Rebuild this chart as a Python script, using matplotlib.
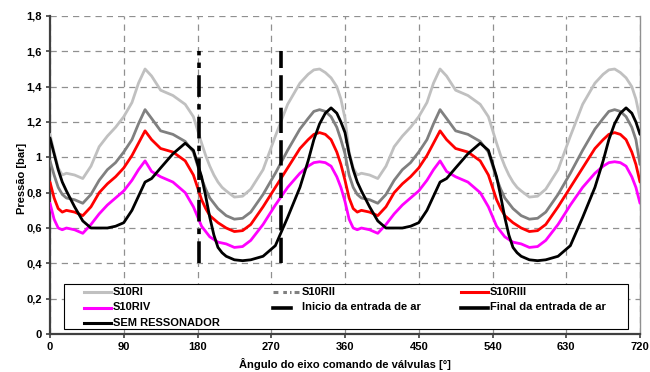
import matplotlib
matplotlib.use("Agg")
import matplotlib.pyplot as plt
from matplotlib.patches import Rectangle
from matplotlib.lines import Line2D

plt.rcParams['font.family'] = ['Liberation Sans', 'DejaVu Sans']
plt.rcParams['font.weight'] = 'bold'

angles = [0, 5, 10, 15, 20, 30, 40, 50, 60, 70, 80, 90, 100, 108, 116, 124, 135, 150, 165, 175,
          185, 190, 195, 200, 205, 210, 215, 225, 235, 245, 260, 275, 290, 305, 315, 322, 329, 336, 343, 350, 355,
          360, 365, 370, 375, 380, 390, 400, 410, 420, 430, 440, 450, 460, 468, 476, 484, 495, 510, 525, 535,
          545, 550, 555, 560, 565, 570, 575, 585, 595, 605, 620, 635, 650, 665, 675, 682, 689, 696, 703, 710, 715,
          720]

s10ri = [1.13, 1.03, 0.94, 0.90, 0.91, 0.90, 0.88, 0.95, 1.06, 1.12, 1.17, 1.23, 1.31, 1.42, 1.50, 1.46, 1.38, 1.35, 1.30, 1.23,
         1.08, 1.01, 0.95, 0.90, 0.86, 0.83, 0.81, 0.775, 0.78, 0.82, 0.93, 1.12, 1.30, 1.42, 1.47, 1.495, 1.50, 1.48, 1.45, 1.40, 1.33,
         1.22, 1.03, 0.94, 0.90, 0.91, 0.90, 0.88, 0.95, 1.06, 1.12, 1.17, 1.23, 1.31, 1.42, 1.50, 1.46, 1.38, 1.35, 1.30, 1.23,
         1.08, 1.01, 0.95, 0.90, 0.86, 0.83, 0.81, 0.775, 0.78, 0.82, 0.93, 1.12, 1.30, 1.42, 1.47, 1.495, 1.50, 1.48, 1.45, 1.40, 1.33,
         1.22]

s10rii = [0.98, 0.90, 0.83, 0.79, 0.77, 0.76, 0.74, 0.79, 0.87, 0.93, 0.97, 1.03, 1.10, 1.19, 1.27, 1.22, 1.15, 1.13, 1.09, 1.03,
          0.88, 0.82, 0.77, 0.74, 0.71, 0.69, 0.67, 0.65, 0.655, 0.69, 0.79, 0.91, 1.04, 1.16, 1.22, 1.26, 1.27, 1.26, 1.23, 1.17, 1.10,
          1.02, 0.90, 0.83, 0.79, 0.77, 0.76, 0.74, 0.79, 0.87, 0.93, 0.97, 1.03, 1.10, 1.19, 1.27, 1.22, 1.15, 1.13, 1.09, 1.03,
          0.88, 0.82, 0.77, 0.74, 0.71, 0.69, 0.67, 0.65, 0.655, 0.69, 0.79, 0.91, 1.04, 1.16, 1.22, 1.26, 1.27, 1.26, 1.23, 1.17, 1.10,
          0.96]

s10riii = [0.86, 0.77, 0.71, 0.69, 0.70, 0.69, 0.67, 0.72, 0.80, 0.85, 0.89, 0.94, 1.01, 1.08, 1.15, 1.10, 1.05, 1.03, 0.98, 0.90,
           0.76, 0.71, 0.67, 0.65, 0.63, 0.615, 0.60, 0.58, 0.585, 0.62, 0.72, 0.83, 0.94, 1.05, 1.10, 1.13, 1.14, 1.13, 1.10, 1.03, 0.96,
           0.87, 0.77, 0.71, 0.69, 0.70, 0.69, 0.67, 0.72, 0.80, 0.85, 0.89, 0.94, 1.01, 1.08, 1.15, 1.10, 1.05, 1.03, 0.98, 0.90,
           0.76, 0.71, 0.67, 0.65, 0.63, 0.615, 0.60, 0.58, 0.585, 0.62, 0.72, 0.83, 0.94, 1.05, 1.10, 1.13, 1.14, 1.13, 1.10, 1.03, 0.96,
           0.86]

s10riv = [0.74, 0.65, 0.60, 0.59, 0.60, 0.59, 0.57, 0.62, 0.68, 0.73, 0.77, 0.81, 0.87, 0.93, 0.98, 0.92, 0.89, 0.86, 0.80, 0.72,
          0.61, 0.58, 0.55, 0.535, 0.52, 0.515, 0.51, 0.49, 0.495, 0.53, 0.62, 0.73, 0.83, 0.91, 0.95, 0.97, 0.975, 0.97, 0.95, 0.89, 0.83,
          0.75, 0.65, 0.60, 0.59, 0.60, 0.59, 0.57, 0.62, 0.68, 0.73, 0.77, 0.81, 0.87, 0.93, 0.98, 0.92, 0.89, 0.86, 0.80, 0.72,
          0.61, 0.58, 0.55, 0.535, 0.52, 0.515, 0.51, 0.49, 0.495, 0.53, 0.62, 0.73, 0.83, 0.91, 0.95, 0.97, 0.975, 0.97, 0.95, 0.89, 0.83,
          0.74]

sem = [1.11, 1.02, 0.93, 0.86, 0.81, 0.72, 0.64, 0.60, 0.60, 0.60, 0.61, 0.63, 0.70, 0.78, 0.86, 0.88, 0.94, 1.02, 1.08, 1.04,
       0.89, 0.78, 0.66, 0.56, 0.49, 0.46, 0.44, 0.42, 0.415, 0.42, 0.44, 0.50, 0.66, 0.83, 0.98, 1.10, 1.19, 1.25, 1.28, 1.25, 1.20,
       1.14, 1.02, 0.93, 0.86, 0.81, 0.72, 0.64, 0.60, 0.60, 0.60, 0.61, 0.63, 0.70, 0.78, 0.86, 0.88, 0.94, 1.02, 1.08, 1.04,
       0.89, 0.78, 0.66, 0.56, 0.49, 0.46, 0.44, 0.42, 0.415, 0.42, 0.44, 0.50, 0.66, 0.83, 0.98, 1.10, 1.19, 1.25, 1.28, 1.25, 1.20,
       1.13]

inicio_x = 182
final_x = 282
marker_span = [0.4, 1.6]

yticks = [0, 0.2, 0.4, 0.6, 0.8, 1.0, 1.2, 1.4, 1.6, 1.8]
ytick_labels = ['0', '0,2', '0,4', '0,6', '0,8', '1', '1,2', '1,4', '1,6', '1,8']
xticks = [0, 90, 180, 270, 360, 450, 540, 630, 720]

C_RI, C_RII, C_RIII, C_RIV = '#C0C0C0', '#808080', '#FF0000', '#FF00FF'

W, H = 650, 372
fig = plt.figure(figsize=(W / 100, H / 100), dpi=100)
ax = fig.add_axes([50 / W, 1 - 334 / H, 590 / W, 318 / H])

lw = 2.0
kw = dict(lw=lw, solid_joinstyle='round', solid_capstyle='round')
ax.plot(angles, s10ri, color=C_RI, zorder=3, **kw)
ax.plot(angles, s10rii, color=C_RII, zorder=3, **kw)
ax.plot(angles, s10riii, color=C_RIII, zorder=3, **kw)
ax.plot(angles, s10riv, color=C_RIV, zorder=3, **kw)
ax.plot([inicio_x, inicio_x], marker_span, color='black', lw=2.6,
        linestyle=(0, (6, 2, 1.5, 2)), zorder=4)
ax.plot([final_x, final_x], marker_span, color='black', lw=2.6,
        linestyle=(0, (7, 2)), zorder=4)
ax.plot(angles, sem, color='black', zorder=5, **kw)

ax.set_xlim(0, 720)
ax.set_ylim(0, 1.8)
ax.set_xticks(xticks)
ax.set_xticklabels([str(v) for v in xticks], fontsize=8, fontweight='bold')
ax.set_yticks(yticks)
ax.set_yticklabels(ytick_labels, fontsize=8, fontweight='bold')

ax.grid(True, color='#909090', lw=0.9, linestyle=(0, (5, 4)), zorder=0)
ax.set_axisbelow(True)

for s in ['left', 'bottom']:
    ax.spines[s].set_color('#404040')
    ax.spines[s].set_linewidth(1.6)
ax.spines['top'].set_visible(False)
ax.spines['right'].set_color('#909090')
ax.spines['right'].set_linewidth(1.0)
ax.tick_params(direction='out', length=3, width=1.2, color='#404040', pad=3)

ax.set_xlabel('Ângulo do eixo comando de válvulas [°]', fontsize=8, fontweight='bold', labelpad=4)
fig.text(22 / W, 1 - 178 / H, 'Pressão [bar]', rotation=90, fontsize=8, fontweight='bold',
         ha='center', va='center')

# legend drawn in figure pixel layout (Excel-style equal columns)
def fx(px):
    return px / W

def fy(py):
    return 1 - py / H

tf = fig.transFigure
box = Rectangle((fx(64), fy(329)), fx(628) - fx(64), fy(284) - fy(329), transform=tf,
                facecolor='white', edgecolor='black', lw=0.8, zorder=20)
fig.add_artist(box)

legend_entries = [
    ('S10RI', C_RI, '-', 2.2, 84, 111, 113, 292),
    ('S10RII', C_RII, (0, (1.6, 1.6, 1.2, 1.0, 0.5, 1.0)), 2.2, 273, 300, 302, 292),
    ('S10RIII', C_RIII, '-', 2.2, 461, 488, 490, 292),
    ('S10RIV', C_RIV, '-', 2.2, 84, 111, 113, 307.5),
    ('Inicio da entrada de ar', 'black', '-', 2.6, 273, 291, 302, 307.5),
    ('Final da entrada de ar', 'black', '-', 2.6, 461, 488, 490, 307.5),
    ('SEM RESSONADOR', 'black', '-', 2.2, 84, 111, 113, 323),
]
for label, col, ls, hlw, x0, x1, tx, ty in legend_entries:
    fig.add_artist(Line2D([fx(x0), fx(x1)], [fy(ty), fy(ty)], transform=tf, color=col,
                          lw=hlw, linestyle=ls, zorder=21))
    fig.text(fx(tx), fy(ty), label, fontsize=8, fontweight='bold', ha='left', va='center',
             zorder=22)

fig.savefig('out.png', dpi=100)
